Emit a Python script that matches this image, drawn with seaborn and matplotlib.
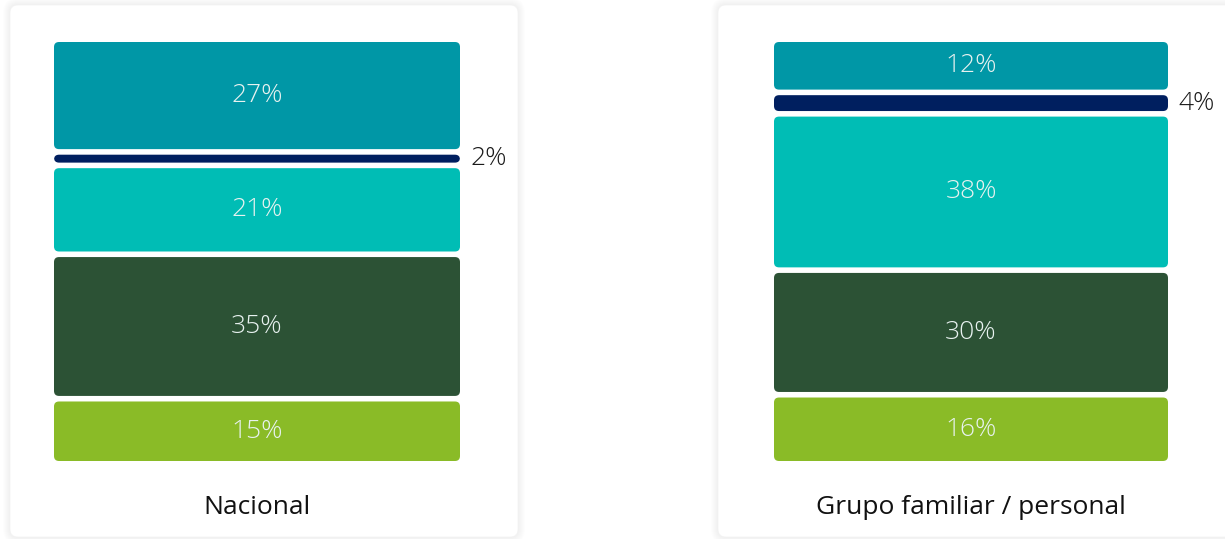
import matplotlib
matplotlib.use("Agg")
import matplotlib.pyplot as plt
from matplotlib.patches import FancyBboxPatch
import seaborn as sns
import pandas as pd

# ---- data ----
categories = ["Nacional", "Grupo familiar / personal"]
segments = ["Seg A", "Seg B", "Seg C", "Seg D", "Seg E"]  # bottom -> top
nacional_values = [15, 35, 21, 2, 27]
grupo_values = [16, 30, 38, 4, 12]
segment_colors = ["#8ABB27", "#2C5235", "#00BDB5", "#001F5F", "#0097A6"]

sns.set_theme(style="white")
plt.rcParams["font.family"] = ["Open Sans", "DejaVu Sans"]

W, H = 1225, 539
fig = plt.figure(figsize=(W / 100, H / 100), dpi=100)
fig.patch.set_facecolor("white")


def card(x0, y0, x1, y1):
    # pixel coords from top-left
    for k in range(7, 0, -1):
        p = FancyBboxPatch(((x0 - k) / W, (H - y1 - k) / H), ((x1 - x0) + 2 * k) / W,
                           ((y1 - y0) + 2 * k) / H,
                           boxstyle="round,pad=0,rounding_size=%f" % ((8 + k) / W),
                           mutation_aspect=W / H, transform=fig.transFigure,
                           facecolor="black", edgecolor="none", alpha=0.006, zorder=0)
        fig.patches.append(p)
    p = FancyBboxPatch((x0 / W, (H - y1) / H), (x1 - x0) / W, (y1 - y0) / H,
                       boxstyle="round,pad=0,rounding_size=%f" % (8 / W),
                       mutation_aspect=W / H, transform=fig.transFigure,
                       facecolor="white", edgecolor="#f3f3f3", linewidth=0.5, zorder=1)
    fig.patches.append(p)


card(10, 5, 518, 537)
card(718, 5, 1240, 537)

GAP = 1.4
TOTAL = 100 + 4 * GAP
bar_top_px, bar_bot_px = 42, 461


def draw_panel(left_px, right_px, cat, values):
    ax = fig.add_axes([left_px / W, (H - bar_bot_px) / H, (right_px - left_px) / W,
                       (bar_bot_px - bar_top_px) / H])
    ax.set_zorder(2)
    ax.patch.set_alpha(0)
    bottoms = []
    b = 0.0
    for v in values:
        bottoms.append(b)
        b += v + GAP
    for seg, v, col, bt in zip(segments, values, segment_colors, bottoms):
        df = pd.DataFrame({"cat": [cat], "val": [v]})
        sns.barplot(data=df, x="cat", y="val", color=col, saturation=1, width=0.8, ax=ax)
    ax.set_xlim(-0.4, 0.4)
    ax.set_ylim(0, TOTAL)
    ax.set_axis_off()
    px_x = (right_px - left_px) / 0.8
    px_y = (bar_bot_px - bar_top_px) / TOTAL
    r_px = 5.0
    rects = list(ax.patches)
    for rect, v, col, bt in zip(rects, values, segment_colors, bottoms):
        x, w = rect.get_x(), rect.get_width()
        rect.remove()
        rr = FancyBboxPatch((x, bt), w, v,
                            boxstyle="round,pad=0,rounding_size=%f" % (r_px / px_x),
                            mutation_aspect=px_x / px_y, facecolor=col, edgecolor="none",
                            zorder=3)
        ax.add_patch(rr)
        label = f"{v}%"
        if v >= 8:
            ax.text(x + w / 2, bt + v / 2, label, ha="center", va="center",
                    color="#E8F2F0", fontsize=19, fontweight="light", zorder=4)
        else:
            ax.text(x + w + 10 / px_x, bt + v / 2, label, ha="left", va="center",
                    color="#1a1a1a", fontsize=19, fontweight="light", zorder=4,
                    clip_on=False)
    ax.text(0, -(507 - bar_bot_px) / px_y, cat, ha="center", va="center",
            color="#111111", fontsize=19, clip_on=False)
    return ax


draw_panel(54, 460, categories[0], nacional_values)
draw_panel(774, 1168, categories[1], grupo_values)

fig.savefig("out.png", dpi=100, facecolor="white")
